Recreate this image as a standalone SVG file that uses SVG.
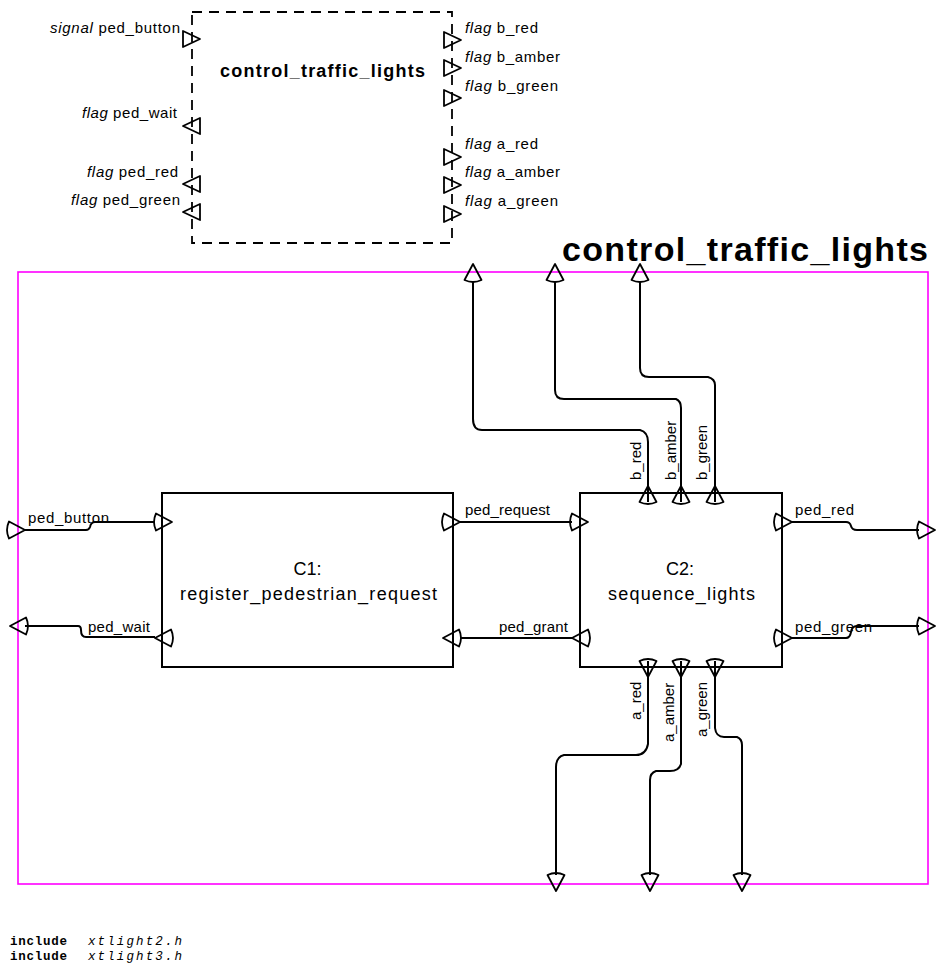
<svg xmlns="http://www.w3.org/2000/svg" xmlns:xlink="http://www.w3.org/1999/xlink" width="936" height="972" viewBox="0 0 936 972">
<style>
text{font-family:"Liberation Sans",Arial,sans-serif;fill:#000}
.l{font-size:15px}
.it{font-style:italic}
.b{font-weight:bold}
.box{fill:none;stroke:#000;stroke-width:2}
.port{fill:none;stroke:#000;stroke-width:1.8;stroke-linejoin:round}
.w{fill:none;stroke:#000;stroke-width:2;stroke-linejoin:round}
.mono{font-family:"Liberation Mono","Courier New",monospace;font-size:12.5px}
.nm{font-size:18px;text-anchor:middle}
</style>
<defs>
<path id="pt" d="M0,0 L-16,-8.5 Q-20,0 -16,8.5 Z"/>
<path id="tr" d="M0,0 L-17,-8 L-17,8 Z"/>
</defs>

<g id="symbol">
<rect x="192" y="12" width="260" height="231" fill="none" stroke="#000" stroke-width="1.8" stroke-dasharray="10 7"/>
<text class="b" x="220" y="77" font-size="18" textLength="205" lengthAdjust="spacing">control_traffic_lights</text>
<g class="port">
<use xlink:href="#tr" transform="translate(200,39)"/>
<use xlink:href="#tr" transform="translate(183,126) rotate(180)"/>
<use xlink:href="#tr" transform="translate(183,184) rotate(180)"/>
<use xlink:href="#tr" transform="translate(183,212) rotate(180)"/>
<use xlink:href="#tr" transform="translate(461,40)"/>
<use xlink:href="#tr" transform="translate(461,68)"/>
<use xlink:href="#tr" transform="translate(461,98)"/>
<use xlink:href="#tr" transform="translate(461,157)"/>
<use xlink:href="#tr" transform="translate(461,185)"/>
<use xlink:href="#tr" transform="translate(461,214)"/>
</g>
<text class="l" x="50" y="33" textLength="130" lengthAdjust="spacing"><tspan class="it">signal</tspan> ped_button</text>
<text class="l" x="82" y="118" textLength="95" lengthAdjust="spacing"><tspan class="it">flag</tspan> ped_wait</text>
<text class="l" x="87" y="177" textLength="91" lengthAdjust="spacing"><tspan class="it">flag</tspan> ped_red</text>
<text class="l" x="71" y="205" textLength="109" lengthAdjust="spacing"><tspan class="it">flag</tspan> ped_green</text>
<text class="l" x="465" y="33" textLength="73" lengthAdjust="spacing"><tspan class="it">flag</tspan> b_red</text>
<text class="l" x="465" y="62" textLength="95" lengthAdjust="spacing"><tspan class="it">flag</tspan> b_amber</text>
<text class="l" x="465" y="91" textLength="93" lengthAdjust="spacing"><tspan class="it">flag</tspan> b_green</text>
<text class="l" x="465" y="149" textLength="73" lengthAdjust="spacing"><tspan class="it">flag</tspan> a_red</text>
<text class="l" x="465" y="177" textLength="95" lengthAdjust="spacing"><tspan class="it">flag</tspan> a_amber</text>
<text class="l" x="465" y="206" textLength="93" lengthAdjust="spacing"><tspan class="it">flag</tspan> a_green</text>
</g>

<g id="frame">
<text class="b" x="562" y="261" font-size="34" textLength="366" lengthAdjust="spacing">control_traffic_lights</text>
<rect x="18" y="272" width="910" height="612" fill="none" stroke="#ff00ff" stroke-width="1.6"/>
<g class="port">
<use xlink:href="#pt" transform="translate(25,530)"/>
<use xlink:href="#pt" transform="translate(10,626) rotate(180)"/>
<use xlink:href="#pt" transform="translate(935,530)"/>
<use xlink:href="#pt" transform="translate(935,626)"/>
<use xlink:href="#pt" transform="translate(473,264) rotate(-90)"/>
<use xlink:href="#pt" transform="translate(555,264) rotate(-90)"/>
<use xlink:href="#pt" transform="translate(640,264) rotate(-90)"/>
<use xlink:href="#pt" transform="translate(556,891) rotate(90)"/>
<use xlink:href="#pt" transform="translate(650,891) rotate(90)"/>
<use xlink:href="#pt" transform="translate(742,891) rotate(90)"/>
</g>
</g>

<g id="C1">
<rect class="box" x="162" y="493" width="291" height="174"/>
<text class="nm" x="307.5" y="575">C1:</text>
<text class="nm" x="308.5" y="600" textLength="257" lengthAdjust="spacing">register_pedestrian_request</text>
<g class="port">
<use xlink:href="#pt" transform="translate(172,522)"/>
<use xlink:href="#pt" transform="translate(155,638) rotate(180)"/>
<use xlink:href="#pt" transform="translate(460,522)"/>
<use xlink:href="#pt" transform="translate(443,638) rotate(180)"/>
</g>
</g>

<g id="C2">
<rect class="box" x="580" y="493" width="202" height="174"/>
<text class="nm" x="680" y="575">C2:</text>
<text class="nm" x="681.5" y="600" textLength="147" lengthAdjust="spacing">sequence_lights</text>
<g class="port">
<use xlink:href="#pt" transform="translate(588,522)"/>
<use xlink:href="#pt" transform="translate(572,638) rotate(180)"/>
<use xlink:href="#pt" transform="translate(792,522)"/>
<use xlink:href="#pt" transform="translate(792,638)"/>
<use xlink:href="#pt" transform="translate(648,486) rotate(-90)"/>
<use xlink:href="#pt" transform="translate(681,486) rotate(-90)"/>
<use xlink:href="#pt" transform="translate(715,486) rotate(-90)"/>
<use xlink:href="#pt" transform="translate(648,677) rotate(90)"/>
<use xlink:href="#pt" transform="translate(681,677) rotate(90)"/>
<use xlink:href="#pt" transform="translate(715,677) rotate(90)"/>
</g>
</g>

<g id="connectors">
<path class="w" d="M25,530 H86 Q89,530 90,527 Q91,522 95,522 H155"/>
<path class="w" d="M25,626 H78 Q81,626 81,630 Q81,637 86,637 H155"/>
<path class="w" d="M460,522 H572"/>
<path class="w" d="M572,638 H460"/>
<path class="w" d="M792,522 H846 Q850,522 851,526 Q852,530 857,530 H919"/>
<path class="w" d="M792,638 H846 Q850,638 851,632 Q852,626 857,626 H919"/>
<path class="w" d="M473,281 V419 Q473,430 482,430 H640 Q648,432 648,442 V502"/>
<path class="w" d="M555,281 V390 Q555,399 564,399 H676 Q681,401 681,408 V502"/>
<path class="w" d="M640,281 V368 Q640,377 649,377 H708 Q715,379 715,385 V502"/>
<path class="w" d="M648,661 V744 Q646,755 636,755 H564 Q556,757 556,767 V875"/>
<path class="w" d="M681,661 V764 Q679,771 670,771 H656 Q650,773 650,780 V875"/>
<path class="w" d="M715,661 V728 Q716,737 724,737 H737 Q742,739 742,745 V875"/>
<text class="l" x="28" y="523" textLength="81" lengthAdjust="spacing">ped_button</text>
<text class="l" x="88" y="632" textLength="62" lengthAdjust="spacing">ped_wait</text>
<text class="l" x="465" y="515" textLength="85" lengthAdjust="spacing">ped_request</text>
<text class="l" x="499" y="632" textLength="69" lengthAdjust="spacing">ped_grant</text>
<text class="l" x="795" y="515" textLength="59" lengthAdjust="spacing">ped_red</text>
<text class="l" x="795" y="632" textLength="77" lengthAdjust="spacing">ped_green</text>
<text class="l" transform="translate(641,480) rotate(-90)">b_red</text>
<text class="l" transform="translate(676,480) rotate(-90)">b_amber</text>
<text class="l" transform="translate(707,480) rotate(-90)">b_green</text>
<text class="l" transform="translate(641,720) rotate(-90)">a_red</text>
<text class="l" transform="translate(674,742) rotate(-90)">a_amber</text>
<text class="l" transform="translate(707,737) rotate(-90)">a_green</text>
</g>

<g id="includes">
<text class="mono" y="945"><tspan x="10" font-weight="bold" textLength="57" lengthAdjust="spacing">include</tspan><tspan x="88" font-style="italic" textLength="94" lengthAdjust="spacing">xtlight2.h</tspan></text>
<text class="mono" y="960"><tspan x="10" font-weight="bold" textLength="57" lengthAdjust="spacing">include</tspan><tspan x="88" font-style="italic" textLength="94" lengthAdjust="spacing">xtlight3.h</tspan></text>
</g>
</svg>
